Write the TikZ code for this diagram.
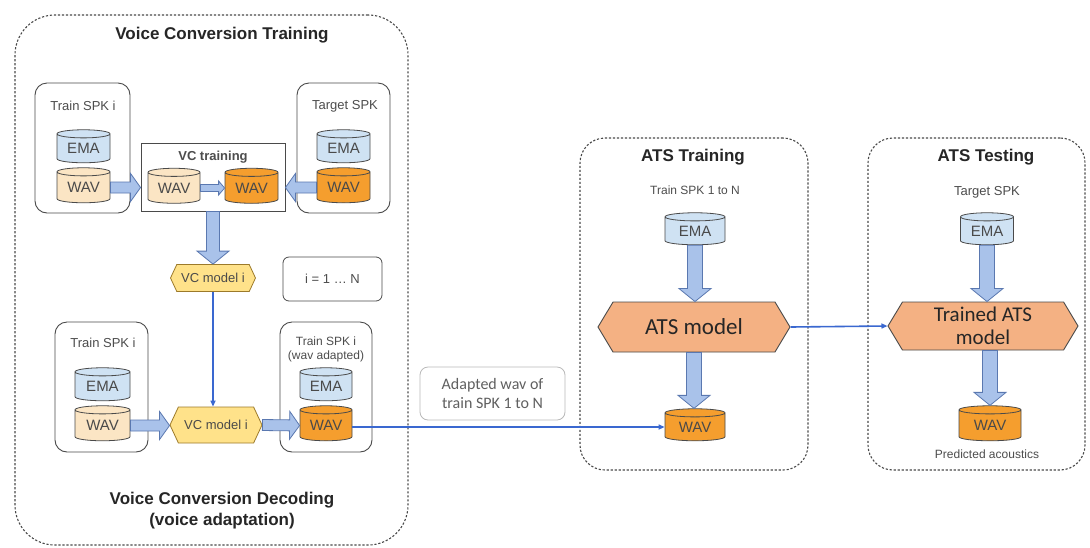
\documentclass[tikz,border=0pt]{standalone}
\usepackage{fontspec}
\setmainfont{Liberation Sans}
\newfontfamily\carl{Carlito}
\usetikzlibrary{shapes.geometric,shapes.symbols,calc,arrows.meta}
\definecolor{emaf}{HTML}{CFE2F3}
\definecolor{wavb}{HTML}{FBE5C4}
\definecolor{wavo}{HTML}{F59E2E}
\definecolor{hexy}{HTML}{FFE28A}
\definecolor{hexys}{HTML}{9C7A2A}
\definecolor{hexo}{HTML}{F4B183}
\definecolor{arrf}{HTML}{A9C2EA}
\definecolor{arrs}{HTML}{5A78B0}
\definecolor{lineb}{HTML}{3A68D0}
\definecolor{edge}{HTML}{4A4A4A}
\definecolor{txt}{HTML}{4D4D4D}
\tikzset{
 container/.style={rectangle, draw=edge, line width=1.1pt, dash pattern=on 2.2pt off 1.8pt},
 spkbox/.style={rectangle, draw=edge, line width=0.9pt, rounded corners=12pt},
 db/.style={cylinder, shape border rotate=90, aspect=0.25, draw=edge, line width=0.8pt, inner sep=0pt, font=\fontsize{15}{15}\selectfont, text=edge},
 ema/.style={db, fill=emaf},
 wavbg/.style={db, fill=wavb},
 wavor/.style={db, fill=wavo},
 lbl/.style={font=\fontsize{13}{15}\selectfont, text=txt, inner sep=0pt},
 slbl/.style={font=\fontsize{12}{14}\selectfont, text=txt, inner sep=0pt},
 ttl/.style={font=\bfseries\fontsize{17}{21}\selectfont, text=black!85, inner sep=0pt, align=center},
 hexs/.style={signal, signal to=east and west, draw=hexys, fill=hexy, line width=0.8pt, signal pointer angle=130, inner sep=0pt, font=\fontsize{13}{15}\selectfont, text=edge},
 hexb/.style={signal, signal to=east and west, draw=edge, fill=hexo, line width=0.9pt, signal pointer angle=118, inner sep=0pt, font=\carl\fontsize{21}{23}\selectfont, text=black!85, align=center},
 fatarr/.style={draw=arrs, fill=arrf, line width=0.8pt},
 bluelink/.style={draw=lineb, line width=1.6pt, -{Triangle[length=6pt,width=5pt]}},
}
\newcommand\fatarrow[5]{%
 \coordinate (fam) at ($(#2)!#5!(#1)$);
 \filldraw[fatarr] ($(#1)!#3!90:(#2)$) -- ($(fam)!#3!90:(#2)$) -- ($(fam)!#4!90:(#2)$) -- (#2) -- ($(fam)!#4!-90:(#2)$) -- ($(fam)!#3!-90:(#2)$) -- ($(#1)!#3!-90:(#2)$) -- cycle;
}
\begin{document}
\begin{tikzpicture}[x=1pt,y=-1pt]
\useasboundingbox[fill=white] (0,0) rectangle (1090,547);
% containers
\node[container, rounded corners=40pt, minimum width=393pt, minimum height=530pt] (vcbox) at (211.5,280) {};
\node[container, rounded corners=25pt, minimum width=228pt, minimum height=332pt] (atrbox) at (694,304) {};
\node[container, rounded corners=25pt, minimum width=217pt, minimum height=332pt] (atebox) at (976.5,304) {};
% titles
\node[ttl] (t1) at (222,35) {Voice Conversion Training};
\node[ttl] (t2) at (222,511) {Voice Conversion Decoding\\(voice adaptation)};
\node[ttl] (t3) at (693,157) {ATS Training};
\node[ttl] (t4) at (986,157) {ATS Testing};
% top-left speaker
\node[spkbox, minimum width=95pt, minimum height=130pt] (spk1) at (82.5,148) {};
\node[lbl] (l1) at (83,106) {Train SPK i};
\node[ema, minimum width=53pt, minimum height=33pt] (ema1) at (83.5,148.5) {EMA};
\node[wavbg, minimum width=53pt, minimum height=35pt] (wav1) at (83.5,187.5) {WAV};
% VC training
\node[rectangle, draw=edge, line width=0.9pt, minimum width=144pt, minimum height=68pt] (vctr) at (213,177) {};
\node[lbl, font=\bfseries\fontsize{13}{15}\selectfont] (l2) at (213,157) {VC training};
\node[wavbg, minimum width=52pt, minimum height=35pt] (wav2) at (174,188) {WAV};
\node[wavor, minimum width=53pt, minimum height=35pt] (wav3) at (251.5,188) {WAV};
% target
\node[spkbox, minimum width=93pt, minimum height=130pt] (tgt) at (343.5,148) {};
\node[lbl] (l3) at (345,106) {Target SPK};
\node[ema, minimum width=53pt, minimum height=33pt] (ema2) at (343.5,148.5) {EMA};
\node[wavor, minimum width=53pt, minimum height=35pt] (wav4) at (343.5,187.5) {WAV};
% VC model
\node[hexs, minimum width=85pt, minimum height=27pt] (vcm1) at (213,278) {VC model i};
\node[spkbox, rounded corners=6pt, line width=0.8pt, minimum width=99pt, minimum height=44pt] (ibox) at (332.5,279) {};
\node[lbl] (l4) at (332.5,279) {i = 1 … N};
% decoding
\node[spkbox, minimum width=93pt, minimum height=130pt] (spk2) at (101.5,387) {};
\node[lbl] (l5) at (103,343) {Train SPK i};
\node[ema, minimum width=55pt, minimum height=33pt] (ema3) at (102.5,386.5) {EMA};
\node[wavbg, minimum width=55pt, minimum height=35pt] (wav5) at (102.5,425.5) {WAV};
\node[hexs, minimum width=92pt, minimum height=36pt] (vcm2) at (216,425) {VC model i};
\node[spkbox, minimum width=92pt, minimum height=130pt] (spk3) at (326,387) {};
\node[slbl, align=center] (l6) at (326,349.5) {Train SPK i\\(wav adapted)};
\node[ema, minimum width=52pt, minimum height=33pt] (ema4) at (326,386.5) {EMA};
\node[wavor, minimum width=52pt, minimum height=35pt] (wav6) at (326,425.5) {WAV};
% adapted wav box
\node[rectangle, rounded corners=8pt, draw=gray!55, line width=0.8pt, minimum width=145pt, minimum height=53pt] (adbox) at (492.5,393.5) {};
\node[font=\carl\fontsize{16}{19}\selectfont, text=gray!75!black, align=center, inner sep=0pt] (l7) at (492.5,393.5) {Adapted wav of\\train SPK 1 to N};
% ATS training
\node[slbl] (l8) at (695,190) {Train SPK 1 to N};
\node[ema, minimum width=60pt, minimum height=32pt] (ema5) at (695,231) {EMA};
\node[hexb, font=\carl\fontsize{23}{25}\selectfont, minimum width=192pt, minimum height=50pt] (atsm) at (694,327) {ATS model};
\node[wavor, minimum width=60pt, minimum height=32pt] (wav7) at (695,427) {WAV};
\coordinate (lk) at (326,427);
% ATS testing
\node[lbl] (l9) at (987,192) {Target SPK};
\node[ema, minimum width=53pt, minimum height=32pt] (ema6) at (987,231) {EMA};
\node[hexb, minimum width=190pt, minimum height=48pt, text depth=0pt] (tatsm) at (983,326) {Trained ATS\\model};
\node[wavor, minimum width=62pt, minimum height=35pt] (wav8) at (990,425.5) {WAV};
\node[slbl] (l10) at (987,454) {Predicted acoustics};
% fat arrows
\fatarrow{wav1.east}{wav1.east -| vctr.west}{5.5pt}{14pt}{10pt}
\fatarrow{wav2.east}{wav3.west}{3.5pt}{7pt}{6pt}
\fatarrow{wav4.west}{wav4.west -| vctr.east}{5.5pt}{14pt}{10pt}
\fatarrow{vctr.south}{vctr.south |- vcm1.north}{6.5pt}{16pt}{13pt}
\fatarrow{wav5.east}{wav5.east -| vcm2.west}{5.5pt}{14pt}{10pt}
\fatarrow{vcm2.east}{wav6.west}{5.5pt}{14pt}{10pt}
\fatarrow{ema5.south}{ema5.south |- atsm.north}{7.5pt}{16pt}{13pt}
\fatarrow{atsm.south}{atsm.south |- wav7.north}{7.5pt}{16pt}{13pt}
\fatarrow{ema6.south}{ema6.south |- tatsm.north}{7.5pt}{16pt}{13pt}
\fatarrow{tatsm.south -| wav8.north}{wav8.north}{7.5pt}{16pt}{13pt}
% blue connectors
\draw[bluelink] (vcm1.south) -- (vcm1.south |- vcm2.north);
\draw[bluelink] (wav6.east |- lk) -- (wav7.west |- lk);
\draw[bluelink] (atsm.east) -- (tatsm.west);
\end{tikzpicture}
\end{document}
